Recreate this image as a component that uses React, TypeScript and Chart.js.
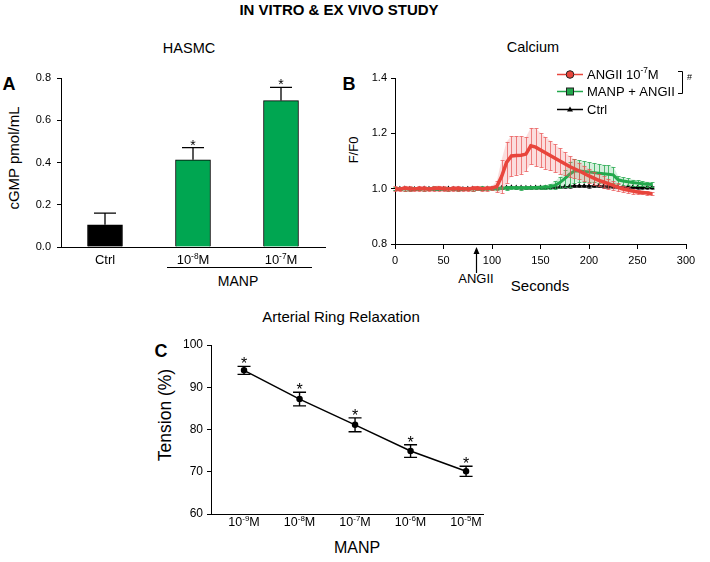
import React, { useEffect, useRef } from 'react';
import { Chart, registerables } from 'chart.js';

Chart.register(...registerables);

const FONT = "'Liberation Sans', Arial, Helvetica, sans-serif";
const RED = '#e8453c';
const RED_ERR = 'rgba(232, 80, 80, 0.7)';
const RED_BAND = 'rgba(240, 120, 120, 0.25)';
const GREEN = '#22a84c';
const GREEN_ERR = 'rgba(40, 170, 80, 0.8)';
const GREEN_BAND = 'rgba(60, 180, 100, 0.22)';
const BAR_GREEN = '#00a651';

// ---------- Panel A: HASMC cGMP ----------
const hasmcLabels = ['Ctrl', '10⁻⁸M', '10⁻⁷M'];
const hasmcValues = [0.105, 0.413, 0.693];
const hasmcErrors = [0.055, 0.057, 0.063];
const hasmcSignificant = [false, true, true];
const hasmcColors = ['#000000', BAR_GREEN, BAR_GREEN];

// ---------- Panel B: Calcium ----------
const calTime = [0, 5, 10, 15, 20, 25, 30, 35, 40, 45, 50, 55, 60, 65, 70, 75, 80, 85, 90, 95, 100,
  105, 110, 115, 120, 125, 130, 135, 140, 145, 150, 155, 160, 165, 170, 175, 180, 185, 190, 195, 200,
  205, 210, 215, 220, 225, 230, 235, 240, 245, 250, 255, 260, 265];
const angiiMean = [1.000, 0.998, 1.002, 1.000, 0.999, 1.001, 1.000, 0.999, 1.001, 1.002, 1.000, 0.999, 1.000, 1.001, 1.000, 0.999, 1.001, 1.002, 1.000, 1.001, 1.002,
  1.008, 1.045, 1.095, 1.118, 1.120, 1.121, 1.125, 1.155, 1.150, 1.140, 1.130, 1.120, 1.110, 1.100, 1.090, 1.080, 1.072, 1.064, 1.055, 1.046,
  1.038, 1.030, 1.024, 1.018, 1.012, 1.005, 0.999, 0.995, 0.991, 0.988, 0.986, 0.984, 0.982];
const angiiErr = [0.008, 0.007, 0.009, 0.008, 0.006, 0.008, 0.009, 0.007, 0.008, 0.009, 0.008, 0.007, 0.008, 0.009, 0.007, 0.008, 0.009, 0.008, 0.007, 0.008, 0.008,
  0.020, 0.060, 0.075, 0.072, 0.070, 0.068, 0.062, 0.065, 0.068, 0.062, 0.058, 0.054, 0.050, 0.046, 0.042, 0.038, 0.034, 0.030, 0.028, 0.026,
  0.024, 0.022, 0.020, 0.018, 0.016, 0.014, 0.012, 0.010, 0.009, 0.008, 0.007, 0.006, 0.006];
const manpMean = [1.000, 1.001, 0.999, 1.000, 1.001, 1.000, 0.999, 1.000, 1.001, 1.000, 1.000, 0.999, 1.001, 1.000, 1.000, 1.001, 0.999, 1.000, 1.001, 1.000, 1.000,
  1.001, 1.002, 1.002, 1.003, 1.003, 1.002, 1.003, 1.004, 1.004, 1.005, 1.005, 1.007, 1.012, 1.022, 1.036, 1.052, 1.064, 1.064, 1.062, 1.060,
  1.058, 1.056, 1.054, 1.052, 1.050, 1.032, 1.028, 1.025, 1.022, 1.020, 1.018, 1.016, 1.015];
const manpErr = [0.006, 0.005, 0.006, 0.007, 0.006, 0.005, 0.006, 0.006, 0.007, 0.006, 0.005, 0.006, 0.006, 0.007, 0.006, 0.005, 0.006, 0.006, 0.007, 0.006, 0.006,
  0.006, 0.005, 0.006, 0.006, 0.005, 0.006, 0.006, 0.005, 0.006, 0.006, 0.007, 0.010, 0.015, 0.020, 0.030, 0.045, 0.042, 0.040, 0.038, 0.036,
  0.035, 0.034, 0.033, 0.032, 0.030, 0.015, 0.013, 0.012, 0.011, 0.010, 0.010, 0.009, 0.009];
const ctrlMean = [1.000, 1.000, 1.001, 1.000, 0.999, 1.000, 1.001, 1.000, 1.000, 0.999, 1.000, 1.001, 1.000, 1.000, 0.999, 1.000, 1.001, 1.000, 1.000, 1.001, 1.001,
  1.002, 1.003, 1.004, 1.005, 1.004, 1.004, 1.003, 1.003, 1.004, 1.004, 1.004, 1.005, 1.005, 1.006, 1.007, 1.008, 1.010, 1.010, 1.010, 1.009,
  1.010, 1.010, 1.009, 1.008, 1.007, 1.006, 1.006, 1.005, 1.005, 1.004, 1.004, 1.004, 1.004];
const ctrlErr = [0.004, 0.004, 0.004, 0.004, 0.004, 0.004, 0.004, 0.004, 0.004, 0.004, 0.004, 0.004, 0.004, 0.004, 0.004, 0.004, 0.004, 0.004, 0.004, 0.004, 0.004,
  0.004, 0.004, 0.004, 0.004, 0.004, 0.004, 0.004, 0.004, 0.004, 0.004, 0.004, 0.004, 0.004, 0.004, 0.004, 0.005, 0.005, 0.005, 0.005, 0.005,
  0.005, 0.005, 0.005, 0.004, 0.004, 0.004, 0.004, 0.004, 0.004, 0.004, 0.004, 0.004, 0.004];
const angiiAddedAt = 83;
const calLegend = ['ANGII 10⁻⁷M', 'MANP + ANGII', 'Ctrl'];

// ---------- Panel C: Arterial ring relaxation ----------
const ringLabels = ['10⁻⁹M', '10⁻⁸M', '10⁻⁷M', '10⁻⁶M', '10⁻⁵M'];
const ringTension = [94.0, 87.2, 81.1, 74.9, 70.1];
const ringErrors = [0.95, 1.6, 1.65, 1.5, 1.2];
const ringSignificant = [true, true, true, true, true];

const SUP: Record<string, string> = {
  '⁻': '-', '⁰': '0', '¹': '1', '²': '2', '³': '3', '⁴': '4', '⁵': '5', '⁶': '6', '⁷': '7', '⁸': '8', '⁹': '9',
};

function drawSupText(ctx: CanvasRenderingContext2D, text: string, x: number, cy: number, size: number, align: 'center' | 'left') {
  const segs: { t: string; sup: boolean; w: number }[] = [];
  for (const ch of text) {
    const isSup = SUP[ch] !== undefined;
    const c = isSup ? SUP[ch] : ch;
    const last = segs[segs.length - 1];
    if (last && last.sup === isSup) last.t += c;
    else segs.push({ t: c, sup: isSup, w: 0 });
  }
  const supSize = size * 0.64;
  let total = 0;
  segs.forEach((s) => {
    ctx.font = `${s.sup ? supSize : size}px ${FONT}`;
    s.w = ctx.measureText(s.t).width;
    total += s.w;
  });
  let px = align === 'center' ? x - total / 2 : x;
  const base = cy + size * 0.36;
  ctx.textAlign = 'left';
  ctx.textBaseline = 'alphabetic';
  segs.forEach((s) => {
    ctx.font = `${s.sup ? supSize : size}px ${FONT}`;
    ctx.fillText(s.t, px, s.sup ? base - size * 0.4 : base);
    px += s.w;
  });
}

function Txt(props: { x: number; y: number; size: number; bold?: boolean; rot?: boolean; family?: string; children: React.ReactNode }) {
  const { x, y, size, bold, rot, family, children } = props;
  return (
    <div
      style={{
        position: 'absolute',
        left: x,
        top: y,
        transform: `translate(-50%, -50%)${rot ? ' rotate(-90deg)' : ''}`,
        fontFamily: family || FONT,
        fontSize: size,
        fontWeight: bold ? 700 : 400,
        lineHeight: 1,
        whiteSpace: 'nowrap',
        color: '#000',
      }}
    >
      {children}
    </div>
  );
}

const axisY = (width: number, min: number, max: number, step: number, size: number, pad: number, decimals: number) => ({
  min,
  max,
  ticks: {
    stepSize: step,
    color: '#000',
    font: { family: FONT, size },
    padding: pad,
    callback: (v: any) => Number(v).toFixed(decimals),
  },
  grid: { drawOnChartArea: false, drawTicks: true, tickLength: 4, color: '#000', lineWidth: 1 },
  border: { display: true, color: '#000', width: 1 },
  afterFit: (s: any) => { s.width = width; },
});

export default function App() {
  const refA = useRef<HTMLCanvasElement>(null);
  const refB = useRef<HTMLCanvasElement>(null);
  const refC = useRef<HTMLCanvasElement>(null);

  useEffect(() => {
    const charts: Chart[] = [];

    // Panel A
    const barPlugin = {
      id: 'barErr',
      afterDatasetsDraw(chart: any) {
        const { ctx, scales: { x, y } } = chart;
        ctx.save();
        ctx.strokeStyle = '#000';
        ctx.fillStyle = '#000';
        ctx.lineWidth = 1.3;
        hasmcValues.forEach((v, i) => {
          const cx = x.getPixelForValue(i);
          const yv = y.getPixelForValue(v);
          const yt = y.getPixelForValue(v + hasmcErrors[i]);
          ctx.beginPath();
          ctx.moveTo(cx, yv);
          ctx.lineTo(cx, yt);
          ctx.moveTo(cx - 11, yt);
          ctx.lineTo(cx + 11, yt);
          ctx.stroke();
          if (hasmcSignificant[i]) {
            ctx.font = `14px ${FONT}`;
            ctx.textAlign = 'center';
            ctx.textBaseline = 'alphabetic';
            ctx.fillText('*', cx, yt + 2);
          }
          drawSupText(ctx, hasmcLabels[i], cx, y.bottom + 12.5, 13, 'center');
        });
        ctx.restore();
      },
    };
    charts.push(new Chart(refA.current!, {
      type: 'bar',
      data: {
        labels: hasmcLabels,
        datasets: [{
          data: hasmcValues,
          backgroundColor: hasmcColors,
          borderColor: '#000',
          borderWidth: 1,
          barThickness: 35,
        }],
      },
      options: {
        animation: false,
        responsive: false,
        devicePixelRatio: 1,
        layout: { padding: { top: 18, right: 15, left: 0, bottom: 0 } },
        plugins: { legend: { display: false }, tooltip: { enabled: false } },
        scales: {
          x: {
            ticks: { display: false },
            grid: { display: false, drawTicks: false },
            border: { display: true, color: '#000', width: 1 },
            afterFit: (s: any) => { s.height = 53; },
          },
          y: axisY(61, 0, 0.8, 0.2, 11, 6, 1) as any,
        },
      },
      plugins: [barPlugin],
    }));

    // Panel B
    const calSeries: [number[], number[], string, string | null][] = [
      [angiiMean, angiiErr, RED_ERR, RED_BAND],
      [manpMean, manpErr, GREEN_ERR, GREEN_BAND],
      [ctrlMean, ctrlErr, 'rgba(0,0,0,0.6)', null],
    ];
    const calPlugin = {
      id: 'calErr',
      beforeDatasetDraw(chart: any, args: any) {
        const s = calSeries[args.index];
        if (!s) return;
        const { ctx, scales: { x, y } } = chart;
        ctx.save();
        if (s[3]) {
          ctx.fillStyle = s[3];
          ctx.beginPath();
          calTime.forEach((t, i) => {
            const px = x.getPixelForValue(t);
            const py = y.getPixelForValue(s[0][i] + s[1][i]);
            if (i === 0) ctx.moveTo(px, py); else ctx.lineTo(px, py);
          });
          for (let i = calTime.length - 1; i >= 0; i--) {
            ctx.lineTo(x.getPixelForValue(calTime[i]), y.getPixelForValue(s[0][i] - s[1][i]));
          }
          ctx.closePath();
          ctx.fill();
        }
        ctx.strokeStyle = s[2];
        ctx.lineWidth = 1;
        ctx.beginPath();
        calTime.forEach((t, i) => {
          const px = Math.round(x.getPixelForValue(t)) + 0.5;
          const y1 = Math.round(y.getPixelForValue(s[0][i] + s[1][i])) + 0.5;
          const y2 = Math.round(y.getPixelForValue(s[0][i] - s[1][i])) + 0.5;
          ctx.moveTo(px, y2);
          ctx.lineTo(px, y1);
          ctx.moveTo(px - 2, y1);
          ctx.lineTo(px + 2, y1);
          ctx.moveTo(px - 2, y2);
          ctx.lineTo(px + 2, y2);
        });
        ctx.stroke();
        ctx.restore();
      },
      afterDraw(chart: any) {
        const { ctx, scales: { x, y } } = chart;
        ctx.save();
        // ANGII arrow
        const ax = Math.round(x.getPixelForValue(angiiAddedAt)) + 0.5;
        const tip = y.bottom + 3;
        ctx.strokeStyle = '#000';
        ctx.fillStyle = '#000';
        ctx.lineWidth = 1.2;
        ctx.beginPath();
        ctx.moveTo(ax, tip + 5);
        ctx.lineTo(ax, tip + 26);
        ctx.stroke();
        ctx.beginPath();
        ctx.moveTo(ax, tip);
        ctx.lineTo(ax - 3, tip + 7);
        ctx.lineTo(ax + 3, tip + 7);
        ctx.closePath();
        ctx.fill();
        // legend
        const rows = [14, 31, 49];
        const lx0 = 217, lx1 = 243, mx = 230, tx = 247;
        const colors = [RED, GREEN, '#000'];
        rows.forEach((ry, i) => {
          ctx.strokeStyle = colors[i];
          ctx.lineWidth = 1.5;
          ctx.beginPath();
          ctx.moveTo(lx0, ry + 0.5);
          ctx.lineTo(lx1, ry + 0.5);
          ctx.stroke();
          ctx.fillStyle = colors[i];
          ctx.strokeStyle = '#222';
          ctx.lineWidth = 1;
          if (i === 0) {
            ctx.beginPath();
            ctx.arc(mx, ry + 0.5, 3.8, 0, Math.PI * 2);
            ctx.fill();
            ctx.stroke();
          } else if (i === 1) {
            ctx.fillRect(mx - 3.5, ry - 3, 7, 7);
            ctx.strokeRect(mx - 3.5, ry - 3, 7, 7);
          } else {
            ctx.beginPath();
            ctx.moveTo(mx, ry - 2.5);
            ctx.lineTo(mx - 3, ry + 2.5);
            ctx.lineTo(mx + 3, ry + 2.5);
            ctx.closePath();
            ctx.fill();
          }
          ctx.fillStyle = '#000';
          drawSupText(ctx, calLegend[i], tx, ry, 13, 'left');
        });
        // bracket with #
        ctx.strokeStyle = '#000';
        ctx.lineWidth = 1;
        ctx.beginPath();
        ctx.moveTo(338, 11.5);
        ctx.lineTo(342.5, 11.5);
        ctx.lineTo(342.5, 33.5);
        ctx.lineTo(338, 33.5);
        ctx.stroke();
        ctx.fillStyle = '#000';
        ctx.font = `9px ${FONT}`;
        ctx.textAlign = 'left';
        ctx.textBaseline = 'middle';
        ctx.fillText('#', 347, 18);
        ctx.restore();
      },
    };
    const mk = (xs: number[], ys: number[]) => xs.map((t, i) => ({ x: t, y: ys[i] }));
    charts.push(new Chart(refB.current!, {
      type: 'line',
      data: {
        datasets: [
          { data: mk(calTime, angiiMean), borderColor: RED, backgroundColor: RED, borderWidth: 3.5, pointRadius: 0, order: 0 },
          { data: mk(calTime, manpMean), borderColor: GREEN, backgroundColor: GREEN, borderWidth: 3, pointRadius: 0, order: 1 },
          { data: mk(calTime, ctrlMean), borderColor: '#000', backgroundColor: '#000', borderWidth: 1.2, pointRadius: 1.8, pointStyle: 'triangle', order: 2 },
        ],
      },
      options: {
        animation: false,
        responsive: false,
        devicePixelRatio: 1,
        layout: { padding: { top: 18, right: 24, left: 0, bottom: 0 } },
        plugins: { legend: { display: false }, tooltip: { enabled: false } },
        scales: {
          x: {
            type: 'linear',
            min: 0,
            max: 300,
            ticks: { stepSize: 50, color: '#000', font: { family: FONT, size: 11 }, padding: 5, maxRotation: 0 },
            grid: { drawOnChartArea: false, drawTicks: true, tickLength: 5, color: '#000' },
            border: { display: true, color: '#000', width: 1 },
            afterFit: (s: any) => { s.height = 56; },
          },
          y: axisY(55, 0.8, 1.4, 0.2, 11, 4, 1) as any,
        },
      },
      plugins: [calPlugin],
    }));

    // Panel C
    const ringPlugin = {
      id: 'ringErr',
      afterDatasetsDraw(chart: any) {
        const { ctx, scales: { x, y } } = chart;
        ctx.save();
        ctx.strokeStyle = '#000';
        ctx.fillStyle = '#000';
        ctx.lineWidth = 1.4;
        ringTension.forEach((v, i) => {
          const cx = x.getPixelForValue(i);
          const yt = y.getPixelForValue(v + ringErrors[i]);
          const yb = y.getPixelForValue(v - ringErrors[i]);
          ctx.beginPath();
          ctx.moveTo(cx, yt);
          ctx.lineTo(cx, yb);
          ctx.moveTo(cx - 6.5, yt);
          ctx.lineTo(cx + 6.5, yt);
          ctx.moveTo(cx - 6.5, yb);
          ctx.lineTo(cx + 6.5, yb);
          ctx.stroke();
          if (ringSignificant[i]) {
            ctx.font = `16px ${FONT}`;
            ctx.textAlign = 'center';
            ctx.textBaseline = 'alphabetic';
            ctx.fillText('*', cx, yt + 3);
          }
          drawSupText(ctx, ringLabels[i], cx, y.bottom + 7, 12.5, 'center');
        });
        ctx.restore();
      },
    };
    charts.push(new Chart(refC.current!, {
      type: 'line',
      data: {
        datasets: [{
          data: ringTension.map((v, i) => ({ x: i, y: v })),
          borderColor: '#000',
          backgroundColor: '#000',
          borderWidth: 1.5,
          pointRadius: 2.5,
          tension: 0,
        }],
      },
      options: {
        animation: false,
        responsive: false,
        devicePixelRatio: 1,
        layout: { padding: { top: 20, right: 17, left: 0, bottom: 0 } },
        plugins: { legend: { display: false }, tooltip: { enabled: false } },
        scales: {
          x: {
            type: 'linear',
            min: -0.595,
            max: 4.305,
            afterBuildTicks: (s: any) => { s.ticks = ringLabels.map((_, i) => ({ value: i })); },
            ticks: { display: false },
            grid: { display: false, drawTicks: false },
            border: { display: true, color: '#000', width: 1 },
            afterFit: (s: any) => { s.height = 48; },
          },
          y: axisY(71, 60, 100, 10, 12, 4, 0) as any,
        },
      },
      plugins: [ringPlugin],
    }));

    return () => charts.forEach((c) => c.destroy());
  }, []);

  return (
    <div style={{ position: 'absolute', left: 0, top: 0, width: 710, height: 562, background: '#fff', overflow: 'hidden' }}>
      <Txt x={339} y={9} size={15} bold family="'Liberation Sans Narrow', 'Arial Narrow', 'Liberation Sans', sans-serif">IN VITRO &amp; EX VIVO STUDY</Txt>

      <Txt x={189} y={48} size={14.5}>HASMC</Txt>
      <Txt x={9} y={84} size={18} bold>A</Txt>
      <Txt x={13} y={158} size={15} rot>cGMP pmol/mL</Txt>
      <div style={{ position: 'absolute', left: 167, top: 267, width: 145, height: 1, background: '#000' }} />
      <Txt x={238} y={281} size={14}>MANP</Txt>

      <Txt x={533} y={47} size={14.5}>Calcium</Txt>
      <Txt x={349} y={84} size={18} bold>B</Txt>
      <Txt x={353} y={150} size={13} rot>F/F0</Txt>
      <Txt x={540} y={285} size={15}>Seconds</Txt>
      <Txt x={476} y={278} size={13}>ANGII</Txt>

      <Txt x={341} y={316} size={15}>Arterial Ring Relaxation</Txt>
      <Txt x={161} y={351} size={18} bold>C</Txt>
      <Txt x={166} y={415} size={17.5} rot>Tension (%)</Txt>
      <Txt x={357} y={548} size={16}>MANP</Txt>

      <canvas ref={refA} width={340} height={240} style={{ position: 'absolute', left: 0, top: 60, width: 340, height: 240 }} />
      <canvas ref={refB} width={370} height={240} style={{ position: 'absolute', left: 340, top: 60, width: 370, height: 240 }} />
      <canvas ref={refC} width={360} height={237} style={{ position: 'absolute', left: 140, top: 325, width: 360, height: 237 }} />
    </div>
  );
}
